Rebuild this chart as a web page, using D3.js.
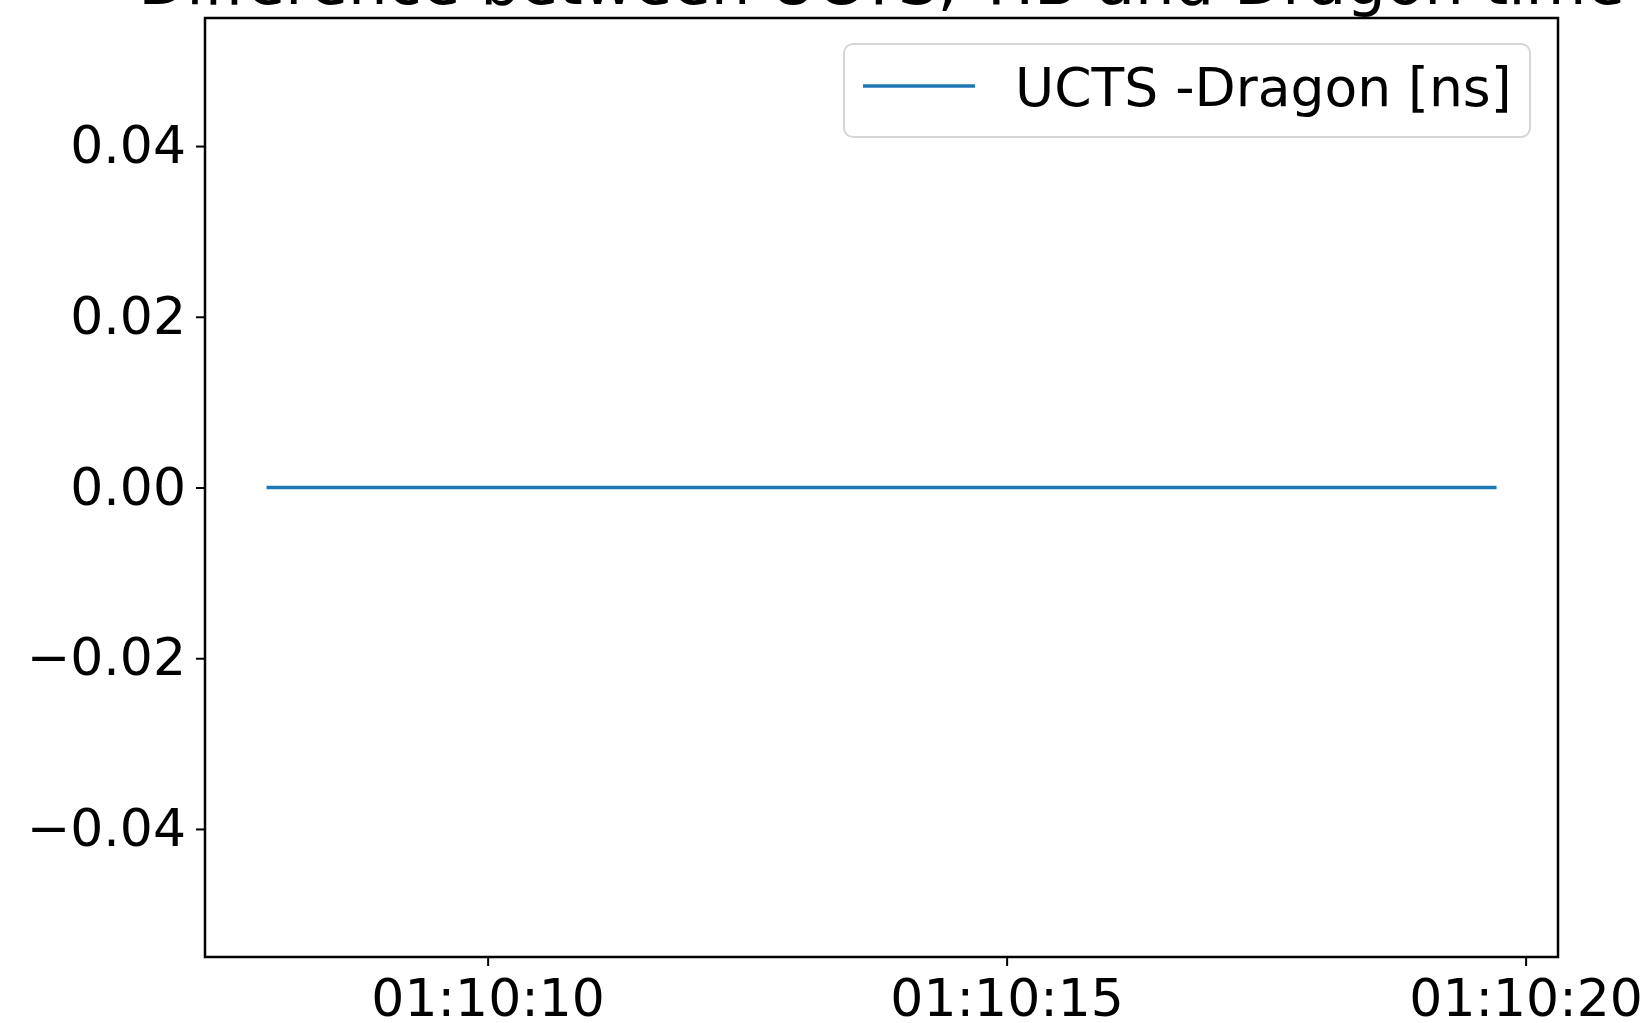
<!DOCTYPE html>
<html>
<head>
<meta charset="utf-8">
<script src="https://cdn.jsdelivr.net/npm/d3@7"></script>
<style>
  body { margin: 0; background: #fff; }
  text { font-family: "DejaVu Sans", sans-serif; fill: #000; }
</style>
</head>
<body>
<div id="chart"></div>
<script>
// data: UCTS - Dragon difference, flat at zero
var times = ["2019-11-20T01:10:07.87Z", "2019-11-20T01:10:19.72Z"];
var diff_ns = [0, 0];
var series_label = "UCTS -Dragon [ns]";
var title_text = "Difference between UCTS, TIB and Dragon time";
var y_ticks = [-0.04, -0.02, 0.00, 0.02, 0.04];

var W = 1652, H = 1023;
var margin = {top: 18, right: 94, bottom: 66, left: 205};
var width = W - margin.left - margin.right;
var height = H - margin.top - margin.bottom;

var data = times.map(function(t, i) { return {t: new Date(t), y: diff_ns[i]}; });

// matplotlib style 5% padding on x
var t0 = data[0].t.getTime(), t1 = data[data.length - 1].t.getTime();
var pad = (t1 - t0) * 0.05;
var xScale = d3.scaleUtc()
    .domain([new Date(t0 - pad), new Date(t1 + pad)])
    .range([0, width]);

// all values zero -> matplotlib gives +-0.055
var yScale = d3.scaleLinear()
    .domain([-0.055, 0.055])
    .range([height, 0]);

var svg = d3.select("#chart").append("svg")
    .attr("width", W)
    .attr("height", H);

// title, cut off at the top like in the picture
svg.append("text")
    .attr("x", margin.left + width / 2)
    .attr("y", 4)
    .attr("text-anchor", "middle")
    .style("font-size", "62.5px")
    .text(title_text);

var g = svg.append("g")
    .attr("transform", "translate(" + margin.left + "," + margin.top + ")");

var xAxis = d3.axisBottom(xScale)
    .tickValues(d3.utcSecond.every(5).range(xScale.domain()[0], xScale.domain()[1]))
    .tickFormat(d3.utcFormat("%H:%M:%S"))
    .tickSize(9)
    .tickPadding(9);

var yAxis = d3.axisLeft(yScale)
    .tickValues(y_ticks)
    .tickFormat(d3.format(".2f"))
    .tickSize(9)
    .tickPadding(10);

var gx = g.append("g")
    .attr("transform", "translate(0," + height + ")")
    .call(xAxis);
gx.selectAll("text").style("font-size", "52px").attr("dy", "0.78em");

var gy = g.append("g").call(yAxis);
gy.selectAll("text").style("font-size", "52px");

[gx, gy].forEach(function(a) {
  a.select(".domain").remove();
  a.selectAll(".tick line").attr("stroke", "#000").attr("stroke-width", 2);
});

// the line
var line = d3.line()
    .x(function(d) { return xScale(d.t); })
    .y(function(d) { return yScale(d.y); });

g.append("path")
    .datum(data)
    .attr("d", line)
    .style("stroke", "#1f77b4")
    .style("stroke-width", 3.5)
    .style("fill", "none");

// frame
g.append("rect")
    .attr("width", width)
    .attr("height", height)
    .style("fill", "none")
    .style("stroke", "#000")
    .style("stroke-width", 2.5);

// legend, upper right
var legW = 686, legH = 93;
var leg = g.append("g")
    .attr("transform", "translate(" + (width - 28 - legW) + ",26)");
leg.append("rect")
    .attr("width", legW)
    .attr("height", legH)
    .attr("rx", 9)
    .style("fill", "#fff")
    .style("fill-opacity", 0.8)
    .style("stroke", "#d6d6d6")
    .style("stroke-width", 2);
leg.append("line")
    .attr("x1", 19).attr("x2", 131)
    .attr("y1", 42).attr("y2", 42)
    .style("stroke", "#1f77b4")
    .style("stroke-width", 3.5);
leg.append("text")
    .attr("x", 171)
    .attr("y", 62)
    .style("font-size", "53.5px")
    .text(series_label);
</script>
</body>
</html>
